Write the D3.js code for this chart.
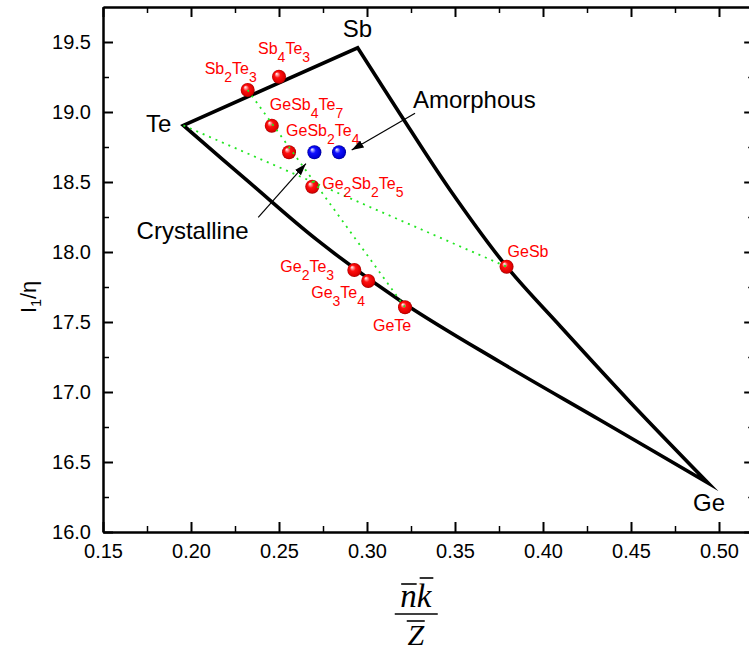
<!DOCTYPE html>
<html>
<head>
<meta charset="utf-8">
<script src="https://cdn.jsdelivr.net/npm/d3@7"></script>
<style>
  body { margin: 0; background: #fff; }
  svg { display: block; }
</style>
</head>
<body>
<svg id="chart" width="749" height="653"></svg>
<script>
// Te–Sb–Ge composition map: I1/η plotted against n̄k̄ / Z̄

// Axis ticks
const xTickValues  = [0.15, 0.20, 0.25, 0.30, 0.35, 0.40, 0.45, 0.50];
const xMinorValues = [0.175, 0.225, 0.275, 0.325, 0.375, 0.425, 0.475];
const yTickValues  = [16.0, 16.5, 17.0, 17.5, 18.0, 18.5, 19.0, 19.5];
const yMinorValues = [16.25, 16.75, 17.25, 17.75, 18.25, 18.75, 19.25];

// Pure elements (corners of the region)
const elementNames = ["Te", "Sb", "Ge"];
const elementX = [0.1957, 0.2947, 0.4938];
const elementY = [18.904, 19.459, 16.350];

// Boundary Sb -> Ge
const sbGeX = [0.2947, 0.3188, 0.3472, 0.3795, 0.4097, 0.4494, 0.4938];
const sbGeY = [19.459, 18.986, 18.443, 17.893, 17.471, 16.929, 16.350];
// Boundary Te -> Ge
const teGeX = [0.1957, 0.2335, 0.2716, 0.3216, 0.3756, 0.4324, 0.4938];
const teGeY = [18.904, 18.493, 18.086, 17.629, 17.214, 16.800, 16.350];

// Crystalline compounds
const crystalNames = ["Sb2Te3", "Sb4Te3", "GeSb4Te7", "GeSb2Te4", "Ge2Sb2Te5", "GeSb", "Ge2Te3", "Ge3Te4", "GeTe"];
const crystalX = [0.2322, 0.2500, 0.2459, 0.2557, 0.2689, 0.3793, 0.2928, 0.3007, 0.3216];
const crystalY = [19.157, 19.252, 18.902, 18.712, 18.466, 17.895, 17.871, 17.793, 17.605];

// Amorphous phases
const amorphousX = [0.2701, 0.2841];
const amorphousY = [18.712, 18.712];

// Pseudo-binary tie lines (dotted)
const tieFrom = ["Te", "Sb2Te3"];
const tieTo   = ["GeSb", "GeTe"];

// Label placement (pixel offsets from the marker)
const labelOffset = {
  Sb2Te3: [-43, -16], Sb4Te3: [-21, -23], GeSb4Te7: [-2, -16], GeSb2Te4: [-3, -16],
  Ge2Sb2Te5: [10, 2], GeSb: [1, -10], Ge2Te3: [-74, 2], Ge3Te4: [-57, 17], GeTe: [-32, 24]
};

const svg = d3.select("#chart");
const W = 749, H = 653;
svg.append("rect").attr("width", W).attr("height", H).attr("fill", "#fff");

const x = d3.scaleLinear().domain([0.15, 0.52]).range([103, 754.2]);
const y = d3.scaleLinear().domain([16, 19.75]).range([532, 7]);

const sans = "'Liberation Sans', Arial, Helvetica, sans-serif";
const serif = "'Liberation Serif', 'DejaVu Serif', 'Times New Roman', serif";

// Gradients for the shaded spheres
const defs = svg.append("defs");
function ballGradient(id, stops) {
  const g = defs.append("radialGradient").attr("id", id)
    .attr("cx", "50%").attr("cy", "50%").attr("r", "50%")
    .attr("fx", "32%").attr("fy", "28%");
  stops.forEach(([o, c]) => g.append("stop").attr("offset", o).attr("stop-color", c));
}
ballGradient("ballRed",  [[0, "#ffffff"], [0.14, "#ffb0b0"], [0.42, "#ff1010"], [0.85, "#e00000"], [1, "#a00000"]]);
ballGradient("ballBlue", [[0, "#ffffff"], [0.14, "#b0b0ff"], [0.42, "#1010ff"], [0.85, "#0000d8"], [1, "#000090"]]);

defs.append("marker").attr("id", "arrow")
  .attr("viewBox", "0 0 12 8").attr("refX", 12).attr("refY", 4)
  .attr("markerWidth", 12).attr("markerHeight", 8).attr("markerUnits", "userSpaceOnUse")
  .attr("orient", "auto")
  .append("path").attr("d", "M0,0 L12,4 L0,8 Z").attr("fill", "#000");

// ---- Axes (ticks pointing inward) ----
const axisG = svg.append("g");
function styleAxis(g, width) {
  g.attr("font-family", null).attr("font-size", null);
  g.selectAll("path.domain").attr("stroke", "#000").attr("stroke-width", 2);
  g.selectAll(".tick line").attr("stroke", "#000").attr("stroke-width", width);
  g.selectAll("text").attr("fill", "#000").style("font-size", "20px").style("font-family", sans);
}
// bottom
axisG.append("g").attr("transform", `translate(0,${y(16)})`)
  .call(d3.axisBottom(x).tickValues(xMinorValues).tickSizeInner(-6).tickSizeOuter(0).tickFormat(""))
  .call(g => styleAxis(g, 1.5));
axisG.append("g").attr("transform", `translate(0,${y(16)})`)
  .call(d3.axisBottom(x).tickValues(xTickValues).tickSizeInner(-10).tickSizeOuter(0).tickPadding(12).tickFormat(d3.format(".2f")))
  .call(g => styleAxis(g, 2));
// top
axisG.append("g").attr("transform", `translate(0,${y(19.75)})`)
  .call(d3.axisTop(x).tickValues(xMinorValues).tickSizeInner(-6).tickSizeOuter(0).tickFormat(""))
  .call(g => styleAxis(g, 1.5));
axisG.append("g").attr("transform", `translate(0,${y(19.75)})`)
  .call(d3.axisTop(x).tickValues(xTickValues).tickSizeInner(-10).tickSizeOuter(0).tickFormat(""))
  .call(g => styleAxis(g, 2));
// left
axisG.append("g").attr("transform", `translate(${x(0.15)},0)`)
  .call(d3.axisLeft(y).tickValues(yMinorValues).tickSizeInner(-6).tickSizeOuter(0).tickFormat(""))
  .call(g => styleAxis(g, 1.5));
axisG.append("g").attr("transform", `translate(${x(0.15)},0)`)
  .call(d3.axisLeft(y).tickValues(yTickValues).tickSizeInner(-10).tickSizeOuter(0).tickPadding(12).tickFormat(d3.format(".1f")))
  .call(g => styleAxis(g, 2));
// right
axisG.append("g").attr("transform", `translate(${x(0.52)},0)`)
  .call(d3.axisRight(y).tickValues(yMinorValues).tickSizeInner(-6).tickSizeOuter(0).tickFormat(""))
  .call(g => styleAxis(g, 1.5));
axisG.append("g").attr("transform", `translate(${x(0.52)},0)`)
  .call(d3.axisRight(y).tickValues(yTickValues).tickSizeInner(-10).tickSizeOuter(0).tickFormat(""))
  .call(g => styleAxis(g, 2));

// ---- Axis titles ----
const yTitle = svg.append("text")
  .attr("transform", `translate(36,${y(17.68)}) rotate(-90)`)
  .attr("text-anchor", "middle").attr("fill", "#000")
  .style("font-size", "22px").style("font-family", sans);
yTitle.append("tspan").text("I");
yTitle.append("tspan").style("font-size", "14px").attr("dy", 5).text("1");
yTitle.append("tspan").attr("dy", -5).text("/η");

const xTitle = svg.append("g").attr("transform", `translate(${x(0.3277)},0)`);
const num = xTitle.append("text").attr("y", 607).attr("text-anchor", "middle").attr("fill", "#000")
  .style("font-family", serif).style("font-style", "italic").style("font-size", "33px");
const tn = num.append("tspan").text("n");
num.append("tspan").text("k");
const numW = num.node().getComputedTextLength();
const nW = tn.node().getComputedTextLength();
const x0 = -numW / 2;
xTitle.append("line").attr("x1", x0 + 1).attr("x2", x0 + nW).attr("y1", 584).attr("y2", 584)
  .attr("stroke", "#000").attr("stroke-width", 1.6);
xTitle.append("line").attr("x1", x0 + nW + 3).attr("x2", x0 + numW + 2).attr("y1", 578).attr("y2", 578)
  .attr("stroke", "#000").attr("stroke-width", 1.6);
xTitle.append("line").attr("x1", -21).attr("x2", 22).attr("y1", 614).attr("y2", 614)
  .attr("stroke", "#000").attr("stroke-width", 1.6);
xTitle.append("text").attr("y", 645).attr("text-anchor", "middle").attr("fill", "#000")
  .style("font-family", serif).style("font-style", "italic").style("font-size", "30px")
  .text("Z");
xTitle.append("line").attr("x1", -9).attr("x2", 9).attr("y1", 621).attr("y2", 621)
  .attr("stroke", "#000").attr("stroke-width", 1.6);

// ---- Region boundary ----
const pts = (xs, ys) => xs.map((v, i) => [v, ys[i]]);
const curve = d3.line().x(d => x(d[0])).y(d => y(d[1])).curve(d3.curveCatmullRom.alpha(0.5));
const straight = d3.line().x(d => x(d[0])).y(d => y(d[1]));
const el = Object.fromEntries(elementNames.map((n, i) => [n, [elementX[i], elementY[i]]]));
const edge1 = straight([el.Te, el.Sb]);
const edge2 = curve(pts(sbGeX, sbGeY)).replace(/^M[^A-Z]*/, "");
const edge3 = curve(pts(teGeX, teGeY).reverse()).replace(/^M[^A-Z]*/, "");
svg.append("path").attr("d", edge1 + edge2 + edge3 + "Z")
  .attr("fill", "none").attr("stroke", "#000").attr("stroke-width", 3.6)
  .attr("stroke-linejoin", "miter").attr("stroke-miterlimit", 10);

// Element labels
const elemLabel = { Te: [-12, 7, "end"], Sb: [-15, -11, "start"], Ge: [-15, 28, "start"] };
elementNames.forEach(n => {
  const [dx, dy, anchor] = elemLabel[n];
  svg.append("text").attr("x", x(el[n][0]) + dx).attr("y", y(el[n][1]) + dy)
    .attr("text-anchor", anchor).attr("fill", "#000")
    .style("font-size", "24px").style("font-family", sans).text(n);
});

// ---- Spheres ----
const comp = Object.fromEntries(crystalNames.map((n, i) => [n, [crystalX[i], crystalY[i]]]));
const allPts = Object.assign({}, el, comp);

svg.append("g").selectAll("circle").data(crystalNames).join("circle")
  .attr("cx", n => x(comp[n][0])).attr("cy", n => y(comp[n][1])).attr("r", 7)
  .attr("fill", "url(#ballRed)");
svg.append("g").selectAll("circle").data(amorphousX).join("circle")
  .attr("cx", d => x(d)).attr("cy", (d, i) => y(amorphousY[i])).attr("r", 7)
  .attr("fill", "url(#ballBlue)");

// Tie lines
svg.append("g").selectAll("line").data(tieFrom).join("line")
  .attr("x1", d => x(allPts[d][0])).attr("y1", d => y(allPts[d][1]))
  .attr("x2", (d, i) => x(allPts[tieTo[i]][0])).attr("y2", (d, i) => y(allPts[tieTo[i]][1]))
  .attr("stroke", "#22e622").attr("stroke-width", 1.8).attr("stroke-dasharray", "2,5");

// Compound formula labels with subscripts
function formula(name, px, py) {
  const t = svg.append("text").attr("x", px).attr("y", py).attr("fill", "#ff0000")
    .style("font-size", "16px").style("font-family", sans);
  let sub = false;
  name.match(/[A-Za-z]+|\d+/g).forEach(tok => {
    if (/\d/.test(tok)) {
      t.append("tspan").style("font-size", "14px").attr("dy", 8).text(tok);
      sub = true;
    } else {
      t.append("tspan").attr("dy", sub ? -8 : 0).text(tok);
      sub = false;
    }
  });
}
crystalNames.forEach(n => {
  const [dx, dy] = labelOffset[n];
  formula(n, x(comp[n][0]) + dx, y(comp[n][1]) + dy);
});

// ---- Annotations ----
svg.append("line")
  .attr("x1", x(0.3273)).attr("y1", y(18.991)).attr("x2", x(0.2913)).attr("y2", y(18.729))
  .attr("stroke", "#000").attr("stroke-width", 1.2).attr("marker-end", "url(#arrow)");
svg.append("text").attr("x", x(0.3261)).attr("y", y(19.026)).attr("fill", "#000")
  .style("font-size", "24px").style("font-family", sans).text("Amorphous");

svg.append("line")
  .attr("x1", x(0.2382)).attr("y1", y(18.248)).attr("x2", x(0.2653)).attr("y2", y(18.631))
  .attr("stroke", "#000").attr("stroke-width", 1.2).attr("marker-end", "url(#arrow)");
svg.append("text").attr("x", x(0.1691)).attr("y", y(18.091)).attr("fill", "#000")
  .style("font-size", "24px").style("font-family", sans).text("Crystalline");
</script>
</body>
</html>
